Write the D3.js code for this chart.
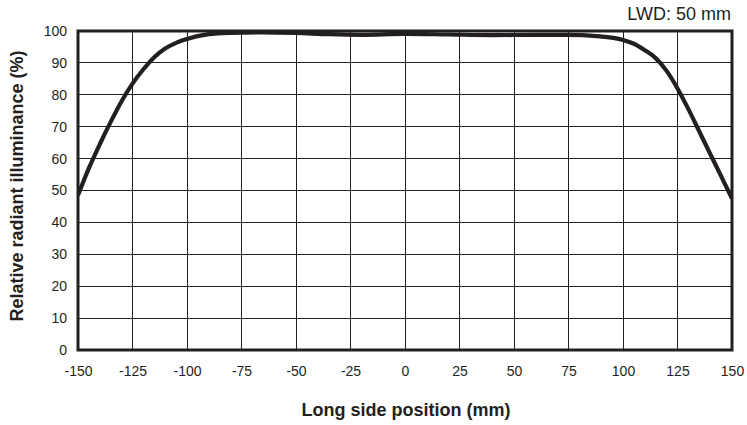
<!DOCTYPE html>
<html><head><meta charset="utf-8">
<script src="https://cdn.jsdelivr.net/npm/d3@7"></script>
<style>body{margin:0;background:#fff}svg{display:block}text{font-family:"Liberation Sans",Arial,sans-serif;fill:#231f20}</style>
</head><body><svg id="c" width="747" height="425"></svg>
<script>
const positions = [-150,-145,-140,-135,-130,-125,-120,-115,-110,-105,-100,-92,-80,-65,-50,-35,-20,0,20,40,60,75,88,100,105,110,115,120,125,130,135,140,145,150];
const illuminance = [48.5,57,64.5,71.5,78,83.5,88,91.8,94.5,96.3,97.5,98.8,99.4,99.6,99.4,99.0,98.8,99.1,98.9,98.7,98.8,98.8,98.4,97.2,96,94,91.5,87.5,82,75.5,68.5,61.5,54.5,47.5];
const xTicks = [-150,-125,-100,-75,-50,-25,0,25,50,75,100,125,150];
const yTicks = [0,10,20,30,40,50,60,70,80,90,100];
const ink = "#231f20";

const svg = d3.select("#c");
const x = d3.scaleLinear().domain([-150,150]).range([78,732]);
const y = d3.scaleLinear().domain([0,100]).range([350,31]);

// grid
svg.append("g").selectAll("line").data(xTicks).join("line")
  .attr("x1",d=>x(d)).attr("x2",d=>x(d)).attr("y1",y(0)).attr("y2",y(100))
  .attr("stroke",ink).attr("stroke-width",1).attr("shape-rendering","crispEdges");
svg.append("g").selectAll("line").data(yTicks).join("line")
  .attr("y1",d=>y(d)).attr("y2",d=>y(d)).attr("x1",x(-150)).attr("x2",x(150))
  .attr("stroke",ink).attr("stroke-width",1).attr("shape-rendering","crispEdges");

// curve
svg.append("clipPath").attr("id","pa").append("rect")
  .attr("x",x(-150)).attr("y",y(100)-3).attr("width",x(150)-x(-150)).attr("height",y(0)-y(100)+3);
svg.append("path").datum(positions.map((p,i)=>[p,illuminance[i]]))
  .attr("clip-path","url(#pa)")
  .attr("d",d3.line().x(d=>x(d[0])).y(d=>y(d[1])).curve(d3.curveMonotoneX))
  .attr("fill","none").attr("stroke",ink).attr("stroke-width",4.2).attr("stroke-linejoin","round");

// frame
svg.append("rect").attr("x",x(-150)).attr("y",y(100)).attr("width",x(150)-x(-150)).attr("height",y(0)-y(100))
  .attr("fill","none").attr("stroke",ink).attr("stroke-width",3);

const fmt = d => String(d);
const xa = svg.append("g").attr("transform",`translate(0,${y(0)})`)
  .call(d3.axisBottom(x).tickValues(xTicks).tickSize(0).tickPadding(16).tickFormat(fmt));
xa.select(".domain").remove();
xa.selectAll("text").attr("font-size",14).attr("fill",ink).style("font-family","'Liberation Sans',Arial,sans-serif");
const ya = svg.append("g").attr("transform",`translate(${x(-150)},0)`)
  .call(d3.axisLeft(y).tickValues(yTicks).tickSize(0).tickPadding(11).tickFormat(fmt));
ya.select(".domain").remove();
ya.selectAll("text").attr("font-size",14).attr("fill",ink).style("font-family","'Liberation Sans',Arial,sans-serif");

svg.append("text").attr("x",406).attr("y",416).attr("text-anchor","middle")
  .attr("font-size",18).attr("font-weight","bold").text("Long side position (mm)");
svg.append("text").attr("transform","translate(23,186) rotate(-90)").attr("text-anchor","middle")
  .attr("font-size",18).attr("font-weight","bold").text("Relative radiant illuminance (%)");
svg.append("text").attr("x",731).attr("y",20).attr("text-anchor","end")
  .attr("font-size",18).text("LWD: 50 mm");
</script></body></html>
